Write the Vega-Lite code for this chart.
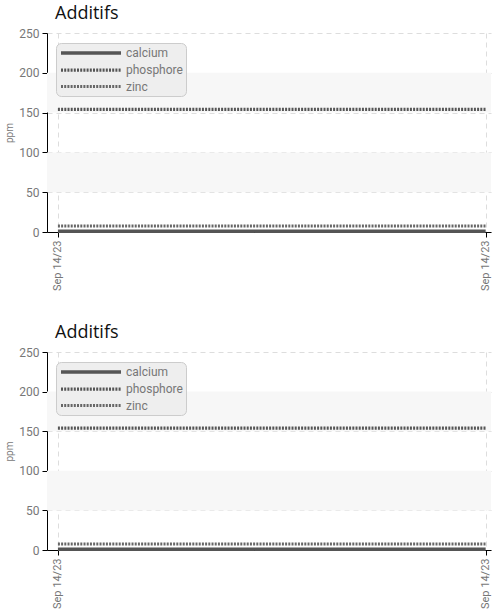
{
  "$schema": "https://vega.github.io/schema/vega-lite/v6.json",
  "background": "white",
  "padding": {"left": 4, "top": 5, "right": 1, "bottom": 2},
  "datasets": {
    "lines": [
      {"time": "2023-09-14T08:00:00", "series": "calcium", "ppm": 1},
      {"time": "2023-09-14T16:00:00", "series": "calcium", "ppm": 1},
      {"time": "2023-09-14T08:00:00", "series": "phosphore", "ppm": 154},
      {"time": "2023-09-14T16:00:00", "series": "phosphore", "ppm": 154},
      {"time": "2023-09-14T08:00:00", "series": "zinc", "ppm": 7.5},
      {"time": "2023-09-14T16:00:00", "series": "zinc", "ppm": 7.5}
    ],
    "bands": [
      {"lo": 50, "hi": 100},
      {"lo": 150, "hi": 200}
    ]
  },
  "spacing": 33,
  "vconcat": [
    {
      "title": {"text": "Additifs"},
      "width": 444,
      "height": 199,
      "layer": [
        {
          "data": {"name": "bands"},
          "mark": {"type": "rect", "color": "#f7f7f7"},
          "encoding": {
            "y": {"field": "lo", "type": "quantitative", "scale": {"domain": [0, 250], "nice": false}, "axis": {"title": "ppm", "values": [0, 50, 100, 150, 200, 250]}},
            "y2": {"field": "hi"}
          }
        },
        {
          "data": {"name": "lines"},
          "mark": {"type": "line"},
          "encoding": {
            "x": {"field": "time", "type": "temporal", "title": null,
              "scale": {"domain": [{"year": 2023, "month": 9, "date": 14, "hours": 7, "minutes": 47, "seconds": 45}, {"year": 2023, "month": 9, "date": 14, "hours": 16, "minutes": 6, "seconds": 0}]},
              "axis": {"values": [{"year": 2023, "month": 9, "date": 14, "hours": 8}, {"year": 2023, "month": 9, "date": 14, "hours": 16}], "format": "%b %d/%y", "labelAngle": 270}},
            "y": {"field": "ppm", "type": "quantitative", "axis": {"title": "ppm", "values": [0, 50, 100, 150, 200, 250]}},
            "color": {"field": "series", "type": "nominal", "scale": {"domain": ["calcium", "phosphore", "zinc"], "range": ["#555555", "#555555", "#666666"]}},
            "strokeDash": {"field": "series", "type": "nominal", "scale": {"domain": ["calcium", "phosphore", "zinc"], "range": [[1, 0], [2, 1.2], [2, 1.2]]}},
            "strokeWidth": {"field": "series", "type": "nominal", "scale": {"domain": ["calcium", "phosphore", "zinc"], "range": [3.5, 3, 2]}}
          }
        }
      ]
    },
    {
      "title": {"text": "Additifs"},
      "width": 444,
      "height": 198,
      "layer": [
        {
          "data": {"name": "bands"},
          "mark": {"type": "rect", "color": "#f7f7f7"},
          "encoding": {
            "y": {"field": "lo", "type": "quantitative", "scale": {"domain": [0, 250], "nice": false}, "axis": {"title": "ppm", "values": [0, 50, 100, 150, 200, 250]}},
            "y2": {"field": "hi"}
          }
        },
        {
          "data": {"name": "lines"},
          "mark": {"type": "line"},
          "encoding": {
            "x": {"field": "time", "type": "temporal", "title": null,
              "scale": {"domain": [{"year": 2023, "month": 9, "date": 14, "hours": 7, "minutes": 47, "seconds": 45}, {"year": 2023, "month": 9, "date": 14, "hours": 16, "minutes": 6, "seconds": 0}]},
              "axis": {"values": [{"year": 2023, "month": 9, "date": 14, "hours": 8}, {"year": 2023, "month": 9, "date": 14, "hours": 16}], "format": "%b %d/%y", "labelAngle": 270}},
            "y": {"field": "ppm", "type": "quantitative", "axis": {"title": "ppm", "values": [0, 50, 100, 150, 200, 250]}},
            "color": {"field": "series", "type": "nominal", "scale": {"domain": ["calcium", "phosphore", "zinc"], "range": ["#555555", "#555555", "#666666"]}},
            "strokeDash": {"field": "series", "type": "nominal", "scale": {"domain": ["calcium", "phosphore", "zinc"], "range": [[1, 0], [2, 1.2], [2, 1.2]]}},
            "strokeWidth": {"field": "series", "type": "nominal", "scale": {"domain": ["calcium", "phosphore", "zinc"], "range": [3.5, 3, 2]}}
          }
        }
      ]
    }
  ],
  "resolve": {"legend": {"color": "independent", "strokeDash": "independent", "strokeWidth": "independent"}},
  "config": {
    "view": {"stroke": null},
    "title": {"anchor": "start", "frame": "group", "dx": 8, "fontSize": 18, "fontWeight": "normal", "color": "#111111", "font": "Open Sans", "offset": 4},
    "axis": {
      "zindex": 1,
      "labelFont": "Roboto",
      "labelColor": "#777777",
      "titleFont": "Roboto",
      "titleColor": "#777777",
      "titleFontWeight": "normal",
      "domainColor": "#000000",
      "tickColor": "#000000",
      "tickSize": 5,
      "grid": true,
      "gridColor": "#dddddd",
      "gridDash": [5, 4],
      "labelOverlap": false
    },
    "axisY": {"labelFontSize": 12, "titleFontSize": 10, "labelPadding": 3, "titlePadding": 4},
    "axisX": {"labelFontSize": 11, "labelPadding": 3},
    "legend": {
      "orient": "none",
      "legendX": 9,
      "legendY": 10,
      "title": null,
      "fillColor": "#eeeeee",
      "strokeColor": "#cccccc",
      "cornerRadius": 5,
      "padding": 3,
      "symbolType": "M-1,0H11",
      "symbolSize": 100,
      "labelFont": "Roboto",
      "labelFontSize": 12,
      "labelColor": "#777777",
      "labelOffset": 53,
      "rowPadding": 3
    }
  }
}
